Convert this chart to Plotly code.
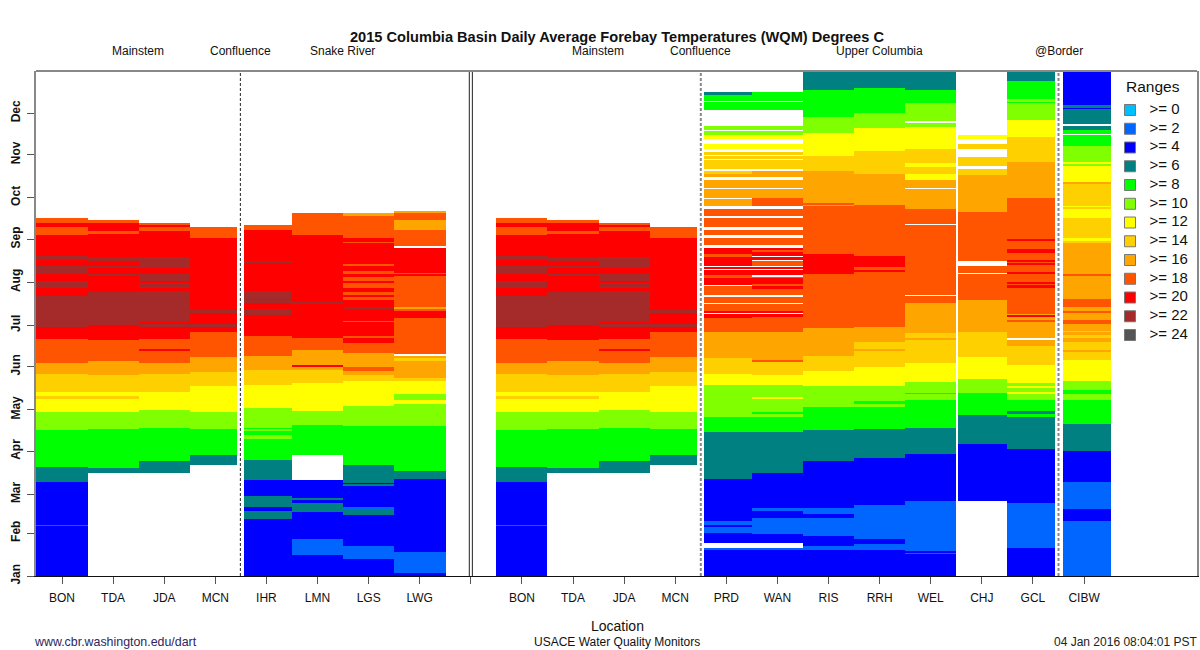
import plotly.graph_objects as go

N = None
LEVELS = [0, 2, 4, 6, 8, 10, 12, 14, 16, 18, 20, 22, 24]
COLORS = ["#00BFFF", "#0066FF", "#0000FF", "#008080", "#00FF00", "#7FFF00", "#FFFF00",
          "#FFD000", "#FFA500", "#FF5500", "#FF0000", "#A52A2A", "#555555"]
MONTHS = ["Jan", "Feb", "Mar", "Apr", "May", "Jun", "Jul", "Aug", "Sep", "Oct", "Nov", "Dec"]
MONTH_DAYS = [0, 31, 59, 90, 120, 151, 181, 212, 243, 273, 304, 334]

# each station: day of year at which a run ends, and the temperature class of that run
BON_END = [36, 37, 68, 79, 105, 118, 128, 130, 133, 146, 154, 171, 180, 202, 208, 213, 218, 224, 228, 231, 246, 252, 255, 258]
BON_T = [4, 2, 4, 6, 8, 10, 12, 14, 12, 14, 16, 18, 20, 22, 20, 22, 20, 22, 20, 22, 20, 18, 20, 18]
TDA_END = [74, 78, 106, 118, 128, 130, 133, 145, 155, 170, 181, 205, 217, 218, 222, 224, 227, 230, 247, 249, 255, 257]
TDA_T = [N, 6, 8, 10, 12, 14, 12, 14, 16, 18, 20, 22, 20, 22, 20, 22, 20, 22, 20, 18, 20, 18]
JDA_END = [74, 83, 107, 120, 133, 146, 154, 163, 164, 171, 180, 182, 183, 206, 208, 209, 210, 211, 213, 218, 222, 230, 249, 252, 253, 255]
JDA_T = [N, 6, 8, 10, 12, 14, 16, 18, 20, 18, 20, 22, 20, 22, 20, 22, 20, 22, 20, 22, 20, 22, 20, 18, 20, 18]
MCN_END = [80, 87, 106, 118, 137, 147, 158, 176, 180, 182, 190, 192, 244, 252]
MCN_T = [N, 6, 8, 10, 12, 14, 16, 18, 20, 22, 20, 22, 20, 18]
IHR_END = [41, 47, 50, 58, 69, 84, 99, 102, 105, 106, 107, 121, 138, 149, 159, 173, 188, 193, 197, 199, 200, 206, 226, 227, 250, 253]
IHR_T = [4, 6, 4, 6, 4, 6, 8, 10, 8, 10, 8, 10, 12, 14, 16, 18, 20, 22, 20, 22, 20, 22, 20, 22, 20, 18]
LMN_END = [15, 27, 46, 53, 55, 56, 69, 87, 109, 119, 139, 149, 151, 152, 163, 172, 196, 198, 246, 262]
LMN_T = [4, 2, 4, 6, 4, 6, 4, N, 8, 10, 12, 14, 16, 20, 16, 18, 20, 22, 20, 18]
LGS_END = [12, 22, 44, 48, 50, 65, 66, 67, 80, 108, 123, 141, 145, 148, 151, 161, 168, 172, 173, 183, 184, 193, 194, 199, 201, 203, 205, 208, 212, 213, 216, 218, 220, 224, 225, 240, 241, 244, 260, 262]
LGS_T = [4, 2, 4, 6, 2, 4, 6, 4, 6, 8, 10, 12, 14, 16, 18, 16, 18, 20, 18, 20, 18, 20, 22, 20, 18, 20, 18, 20, 18, 20, 18, 20, 18, 20, 18, 20, 18, 20, 18, 16]
LWG_END = [2, 17, 70, 76, 108, 124, 127, 131, 141, 143, 155, 157, 159, 160, 186, 191, 193, 194, 217, 218, 219, 237, 238, 250, 257, 262, 263]
LWG_T = [4, 2, 4, 6, 8, 10, 12, 10, 12, 14, 16, 14, 16, N, 18, 20, 18, 16, 18, 20, 18, 20, N, 18, 16, 18, 16]
PRD_END = [19, 20, 24, 31, 36, 37, 40, 70, 104, 115, 138, 146, 157, 176, 186, 189, 190, 191, 196, 197, 201, 203, 209, 210, 215, 217, 221, 222, 223, 224, 230, 232, 237, 239, 244, 246, 250, 252, 258, 260, 265, 267, 272, 273, 279, 280, 286, 288, 290, 292, 294, 300, 301, 303, 304, 306, 308, 312, 315, 318, 321, 322, 325, 336, 342, 343, 347, 349]
PRD_T = [4, 2, N, 4, 2, 4, 2, 4, 6, 8, 10, 12, 14, 16, 18, 20, N, 20, 18, N, 18, N, 18, N, 20, 18, 20, N, 20, N, 20, 18, 20, N, 18, N, 18, N, 18, N, 18, N, 16, N, 16, N, 16, N, 16, 14, N, 14, N, 14, N, 14, N, 12, N, 12, 10, N, 10, N, 8, N, 8, 6]
WAN_END = [19, 20, 24, 30, 42, 47, 49, 74, 104, 115, 117, 118, 128, 129, 138, 145, 155, 156, 176, 187, 189, 190, 191, 196, 197, 201, 203, 207, 209, 211, 215, 216, 217, 221, 222, 223, 224, 227, 228, 230, 231, 234, 235, 237, 239, 244, 246, 250, 252, 258, 260, 265, 267, 273, 279, 280, 286, 288, 292, 294, 300, 301, 303, 304, 306, 308, 312, 315, 318, 321, 322, 325, 336, 342, 343, 349]
WAN_T = [4, 2, N, 4, 2, 4, 2, 4, 6, 8, 10, 8, 10, 12, 10, 12, 14, 18, 16, 18, 20, N, 20, 18, N, 18, N, 18, 20, 18, 20, 18, N, 20, N, 20, N, 18, N, 20, N, 20, 18, 20, N, 18, N, 18, N, 18, N, 18, N, 18, 16, N, 16, N, 16, N, 14, N, 14, N, 14, N, 12, N, 12, 10, N, 10, N, 8, N, 8]
RIS_END = [19, 22, 29, 42, 45, 49, 83, 105, 122, 137, 148, 159, 179, 218, 232, 267, 268, 269, 292, 303, 320, 331, 351, 365]
RIS_T = [4, 2, 4, 2, 4, 2, 4, 6, 8, 10, 12, 14, 16, 18, 20, 18, 16, 18, 16, 14, 12, 10, 8, 6]
RRH_END = [19, 23, 27, 51, 85, 106, 122, 124, 126, 137, 151, 163, 164, 169, 180, 220, 221, 223, 231, 268, 290, 307, 323, 334, 352, 365]
RRH_T = [4, 2, 4, 2, 4, 6, 8, 10, 8, 10, 12, 14, 16, 14, 16, 18, 20, 18, 20, 18, 16, 14, 12, 10, 8, 6]
WEL_END = [16, 17, 18, 54, 88, 107, 127, 131, 132, 140, 154, 170, 172, 175, 197, 202, 203, 253, 254, 265, 279, 280, 286, 290, 295, 298, 308, 324, 327, 328, 341, 351, 365]
WEL_T = [4, 2, 4, 2, 4, 6, 8, 10, 8, 10, 12, 14, 16, 14, 16, 18, N, 18, N, 18, 16, N, 16, 12, 14, 12, 14, 12, 10, N, 10, 8, 6]
CHJ_END = [54, 95, 116, 132, 142, 158, 176, 199, 218, 219, 224, 227, 263, 289, 294, 296, 302, 308, 312, 315, 318]
CHJ_T = [N, 4, 6, 8, 10, 12, 14, 16, 18, N, 18, N, 18, 16, 14, N, 14, N, 14, N, 12]
GCL_END = [20, 53, 92, 115, 117, 119, 127, 132, 133, 136, 137, 139, 152, 166, 170, 172, 184, 185, 187, 188, 189, 208, 210, 211, 212, 218, 219, 225, 226, 227, 228, 233, 236, 242, 243, 273, 299, 317, 329, 341, 342, 344, 357, 365]
GCL_T = [4, 2, 4, 6, 8, 6, 8, 10, 12, 10, 12, 10, 12, 14, 16, N, 16, 18, 16, 20, 16, 18, 20, 18, 20, 18, 20, 18, 20, 18, 20, 18, 20, 18, 20, 18, 16, 14, 12, 10, 8, 10, 8, 6]
CIBW_END = [40, 48, 68, 90, 110, 127, 131, 134, 141, 156, 162, 163, 169, 172, 174, 176, 177, 182, 185, 190, 191, 194, 200, 217, 218, 240, 242, 244, 258, 265, 266, 267, 283, 284, 296, 298, 299, 310, 318, 319, 322, 325, 326, 337, 338, 340, 365]
CIBW_T = [2, 4, 2, 4, 6, 8, 10, 8, 10, 12, 14, 16, 14, 16, 14, 16, 14, 16, 18, 16, 18, 16, 18, 16, 18, 16, 14, 12, 14, 12, 14, 12, 14, 16, 12, 10, 12, 10, 8, N, 8, 6, N, 6, 4, 6, 4]

# label, position on the x axis, run ends, run classes
STATIONS = [
    ("BON", 0, BON_END, BON_T), ("TDA", 1, TDA_END, TDA_T), ("JDA", 2, JDA_END, JDA_T), ("MCN", 3, MCN_END, MCN_T),
    ("IHR", 4, IHR_END, IHR_T), ("LMN", 5, LMN_END, LMN_T), ("LGS", 6, LGS_END, LGS_T), ("LWG", 7, LWG_END, LWG_T),
    ("BON", 9, BON_END, BON_T), ("TDA", 10, TDA_END, TDA_T), ("JDA", 11, JDA_END, JDA_T), ("MCN", 12, MCN_END, MCN_T),
    ("PRD", 13, PRD_END, PRD_T), ("WAN", 14, WAN_END, WAN_T), ("RIS", 15, RIS_END, RIS_T), ("RRH", 16, RRH_END, RRH_T),
    ("WEL", 17, WEL_END, WEL_T), ("CHJ", 18, CHJ_END, CHJ_T), ("GCL", 19, GCL_END, GCL_T), ("CIBW", 20, CIBW_END, CIBW_T),
]
# bars that stop short of, or run past, the regular one-slot width
BAR_EXTENT = {3: (-0.5, 0.43), 4: (-0.44, 0.5), 7: (-0.5, 0.52), 12: (-0.5, 0.43), 13: (-0.44, 0.5),
              18: (-0.47, 0.49), 19: (-0.5, 0.43), 20: (-0.41, 0.53)}

W, H = 1200, 650
PL, PR, PT, PB = 36, 1197, 71, 576   # frame in window pixels
XMIN, XMAX = -0.509, 22.21
YMAX = 364.4


def fx(px):
    return (px - PL) / (PR - PL)


def fy(py):
    return (PB - py) / (PB - PT)


fig = go.Figure()
for level, color in zip(LEVELS, COLORS):
    xs, bases, heights, widths, offsets = [], [], [], [], []
    for name, pos, ends, temps in STATIONS:
        start = 0
        for end, t in zip(ends, temps):
            if t == level:
                lo, hi = BAR_EXTENT.get(pos, (-0.5, 0.5))
                xs.append(pos)
                bases.append(start)
                heights.append(end - start)
                widths.append(hi - lo)
                offsets.append(lo)
            start = end
    if xs:
        fig.add_trace(go.Bar(x=xs, y=heights, base=bases, width=widths, offset=offsets,
                             marker=dict(color=color, line=dict(width=0)), name=">= %d" % level,
                             showlegend=False))

# legend panel, on axes of its own
fig.add_trace(go.Scatter(x=[18] * len(LEVELS), y=LEVELS, mode="markers", xaxis="x2", yaxis="y2",
                         marker=dict(symbol="square", size=11, color=COLORS, line=dict(color="#777777", width=1)),
                         showlegend=False, hoverinfo="skip"))
fig.add_trace(go.Scatter(x=[37.5] * len(LEVELS), y=LEVELS, mode="text", xaxis="x2", yaxis="y2",
                         text=[">= %d" % v for v in LEVELS], textposition="middle right",
                         textfont=dict(family="Liberation Sans", size=15, color="#111111"),
                         showlegend=False, hoverinfo="skip"))

FONT = "Liberation Sans"
ticks = [s[1] for s in STATIONS] + [8]
labels = [s[0] for s in STATIONS] + [""]
fig.update_layout(
    width=W, height=H, barmode="overlay", bargap=0,
    margin=dict(l=PL, r=W - PR, t=PT, b=H - PB, pad=0),
    paper_bgcolor="white", plot_bgcolor="white", showlegend=False,
    font=dict(family=FONT, color="#111111"),
    xaxis=dict(range=[XMIN, XMAX], tickmode="array", tickvals=ticks, ticktext=labels, ticks="outside",
               ticklen=7, tickcolor="#555555", tickwidth=1, showgrid=False, zeroline=False, showline=True,
               linecolor="#111111", linewidth=1, tickfont=dict(size=12, family=FONT), ticklabelstandoff=4,
               automargin=False),
    yaxis=dict(range=[0, YMAX], tickmode="array", tickvals=MONTH_DAYS, ticktext=MONTHS, ticks="outside",
               ticklen=7, tickcolor="#555555", tickwidth=1, showgrid=False, zeroline=False, showline=True,
               linecolor="#888888", linewidth=2, mirror=True, tickangle=-90, ticklabelstandoff=2,
               tickfont=dict(size=12, family=FONT, weight=700), automargin=False),
    xaxis2=dict(domain=[fx(1112), 1], range=[0, 85], anchor="y2", visible=False, automargin=False),
    yaxis2=dict(domain=[0, 1], range=[49.7, -4.16], anchor="x2", visible=False, automargin=False),
)


def note(text, px, py, size=11, anchor="center", bold=False, color="#111111"):
    fig.add_annotation(text=text, x=fx(px), y=fy(py), xref="paper", yref="paper", showarrow=False,
                       xanchor=anchor, yanchor="middle", borderpad=0,
                       font=dict(family=FONT, size=size, color=color, weight=700 if bold else 400))


note("2015 Columbia Basin Daily Average Forebay Temperatures (WQM) Degrees C", 617, 37, size=14.6, bold=True)
for text, px in [("Mainstem", 138), ("Confluence", 240), ("Snake River", 342), ("Mainstem", 598),
                 ("Confluence", 700), ("Upper Columbia", 880), ("@Border", 1059)]:
    note(text, px, 51, size=12)
note("Ranges", 1153, 86, size=15.5)
note("Location", 617, 626, size=14)
note("www.cbr.washington.edu/dart", 33, 642, size=12.4, anchor="left", color="#2E2660")
note("USACE Water Quality Monitors", 617, 642, size=12)
note("04 Jan 2016 08:04:01 PST", 1198, 642, size=12, anchor="right", color="#222222")

# separators: dashed group dividers, the double rule between the two panels, and the top frame line
fig.add_shape(type="line", x0=3.49, x1=3.49, y0=0, y1=1, xref="x", yref="paper",
              line=dict(color="#222222", width=1, dash="3px,2px"))
for xpos in [12.5, 19.5]:
    fig.add_shape(type="line", x0=xpos, x1=xpos, y0=0, y1=1, xref="x", yref="paper",
                  line=dict(color="#888888", width=2, dash="3px,2px"))
for xpos in [7.97, 8.03]:
    fig.add_shape(type="line", x0=xpos, x1=xpos, y0=0, y1=1, xref="x", yref="paper",
                  line=dict(color="#222222", width=1))
fig.add_shape(type="line", x0=0, x1=1, y0=1, y1=1, xref="paper", yref="paper", line=dict(color="#888888", width=2))

fig.write_html("out.html", config={"displayModeBar": False}, post_script="document.body.style.margin='0';")
